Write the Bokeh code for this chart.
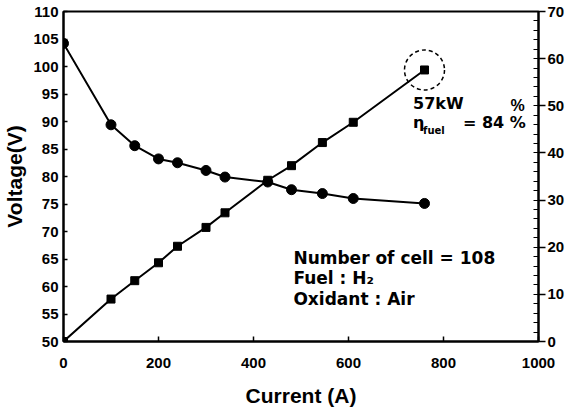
from bokeh.plotting import figure
from bokeh.models import Range1d, LinearAxis, FixedTicker
from bokeh.embed import file_html
from bokeh.resources import INLINE
from bokeh.core.properties import value

# ---- data ----
current = [0, 100, 150, 200, 240, 300, 340, 430, 480, 545, 610, 760]
voltage = [104.2, 89.4, 85.6, 83.2, 82.5, 81.1, 79.9, 79.0, 77.6, 76.9, 76.0, 75.1]
power = [0, 9.0, 12.9, 16.7, 20.2, 24.2, 27.3, 34.2, 37.3, 42.2, 46.5, 57.6]

x_ticks = [0, 200, 400, 600, 800, 1000]
v_ticks = [50, 55, 60, 65, 70, 75, 80, 85, 90, 95, 100, 105, 110]
p_ticks = [0, 10, 20, 30, 40, 50, 60, 70]
p_minor = list(range(0, 71, 2))

TICK_FONT = "Liberation Sans"
ANN_FONT = "DejaVu Sans"

p = figure(width=567, height=409,
           x_range=Range1d(0, 1000), y_range=Range1d(50, 110),
           output_backend="svg", toolbar_location=None,
           min_border_left=62, min_border_right=27,
           min_border_top=11, min_border_bottom=68)
p.extra_y_ranges = {"power": Range1d(0, 70)}
p.grid.visible = False
p.outline_line_color = "black"
p.outline_line_width = 2
p.background_fill_color = "white"
p.border_fill_color = "white"

xa = p.xaxis[0]
xa.ticker = FixedTicker(ticks=x_ticks)
xa.axis_label = "Current (A)"
xa.major_tick_in = 5
xa.major_tick_out = 0
xa.minor_tick_in = 0
xa.minor_tick_out = 0
xa.major_label_standoff = 16
xa.axis_label_standoff = 13

ya = p.yaxis[0]
ya.ticker = FixedTicker(ticks=v_ticks)
ya.axis_label = "Voltage(V)"
ya.major_tick_in = 4
ya.major_tick_out = 0
ya.minor_tick_in = 0
ya.minor_tick_out = 0
ya.major_label_standoff = 5
ya.axis_label_standoff = 4

ra = LinearAxis(y_range_name="power",
                ticker=FixedTicker(ticks=p_ticks, minor_ticks=p_minor))
ra.major_tick_out = 7
ra.major_tick_in = 0
ra.minor_tick_in = 5
ra.minor_tick_out = 0
ra.major_label_standoff = 2
p.add_layout(ra, "right")

for ax in (xa, ya, ra):
    ax.axis_line_width = 2
    ax.axis_line_color = "black"
    ax.major_tick_line_width = 1.5
    ax.major_tick_line_color = "black"
    ax.minor_tick_line_color = "black"
    ax.major_label_text_font = TICK_FONT
    ax.major_label_text_font_style = "bold"
    ax.major_label_text_font_size = "15px"
    ax.major_label_text_color = "black"
    ax.axis_label_text_font = TICK_FONT
    ax.axis_label_text_font_style = "bold"
    ax.axis_label_text_font_size = "21px"
    ax.axis_label_text_color = "black"

# voltage curve (left axis)
p.line(current, voltage, line_width=2, line_color="black")
p.scatter(current, voltage, marker="circle", size=10,
          fill_color="black", line_color="black")

# power curve (right axis)
p.line(current, power, line_width=2, line_color="black", y_range_name="power")
p.scatter(current, power, marker="square", size=8,
          fill_color="black", line_color="black", y_range_name="power")

# dashed highlight around the maximum power point
p.scatter([current[-1]], [power[-1]], marker="circle", size=40,
          fill_color=None, line_color="black", line_width=1.5,
          line_dash="4 3", y_range_name="power")

# annotations
def txt(x, y, s, size="16px", font=ANN_FONT, align="left"):
    p.text(x=[x], y=[y], text=[s], text_font=value(font),
           text_font_style="bold", text_font_size=size,
           text_color="black", text_align=align, text_baseline="middle")

txt(736, 93.3, "57kW")
txt(736, 89.8, "η")
txt(757, 88.4, "fuel", size="10px")
txt(841, 89.8, "= 84 %")

txt(484, 65.1, "Number of cell = 108", size="17px")
txt(484, 61.6, "Fuel : H₂", size="17px")
txt(484, 57.8, "Oxidant : Air", size="17px")

txt(956, 92.9, "%", size="16px", font=TICK_FONT, align="center")

open("out.html", "w").write(file_html(p, INLINE))
